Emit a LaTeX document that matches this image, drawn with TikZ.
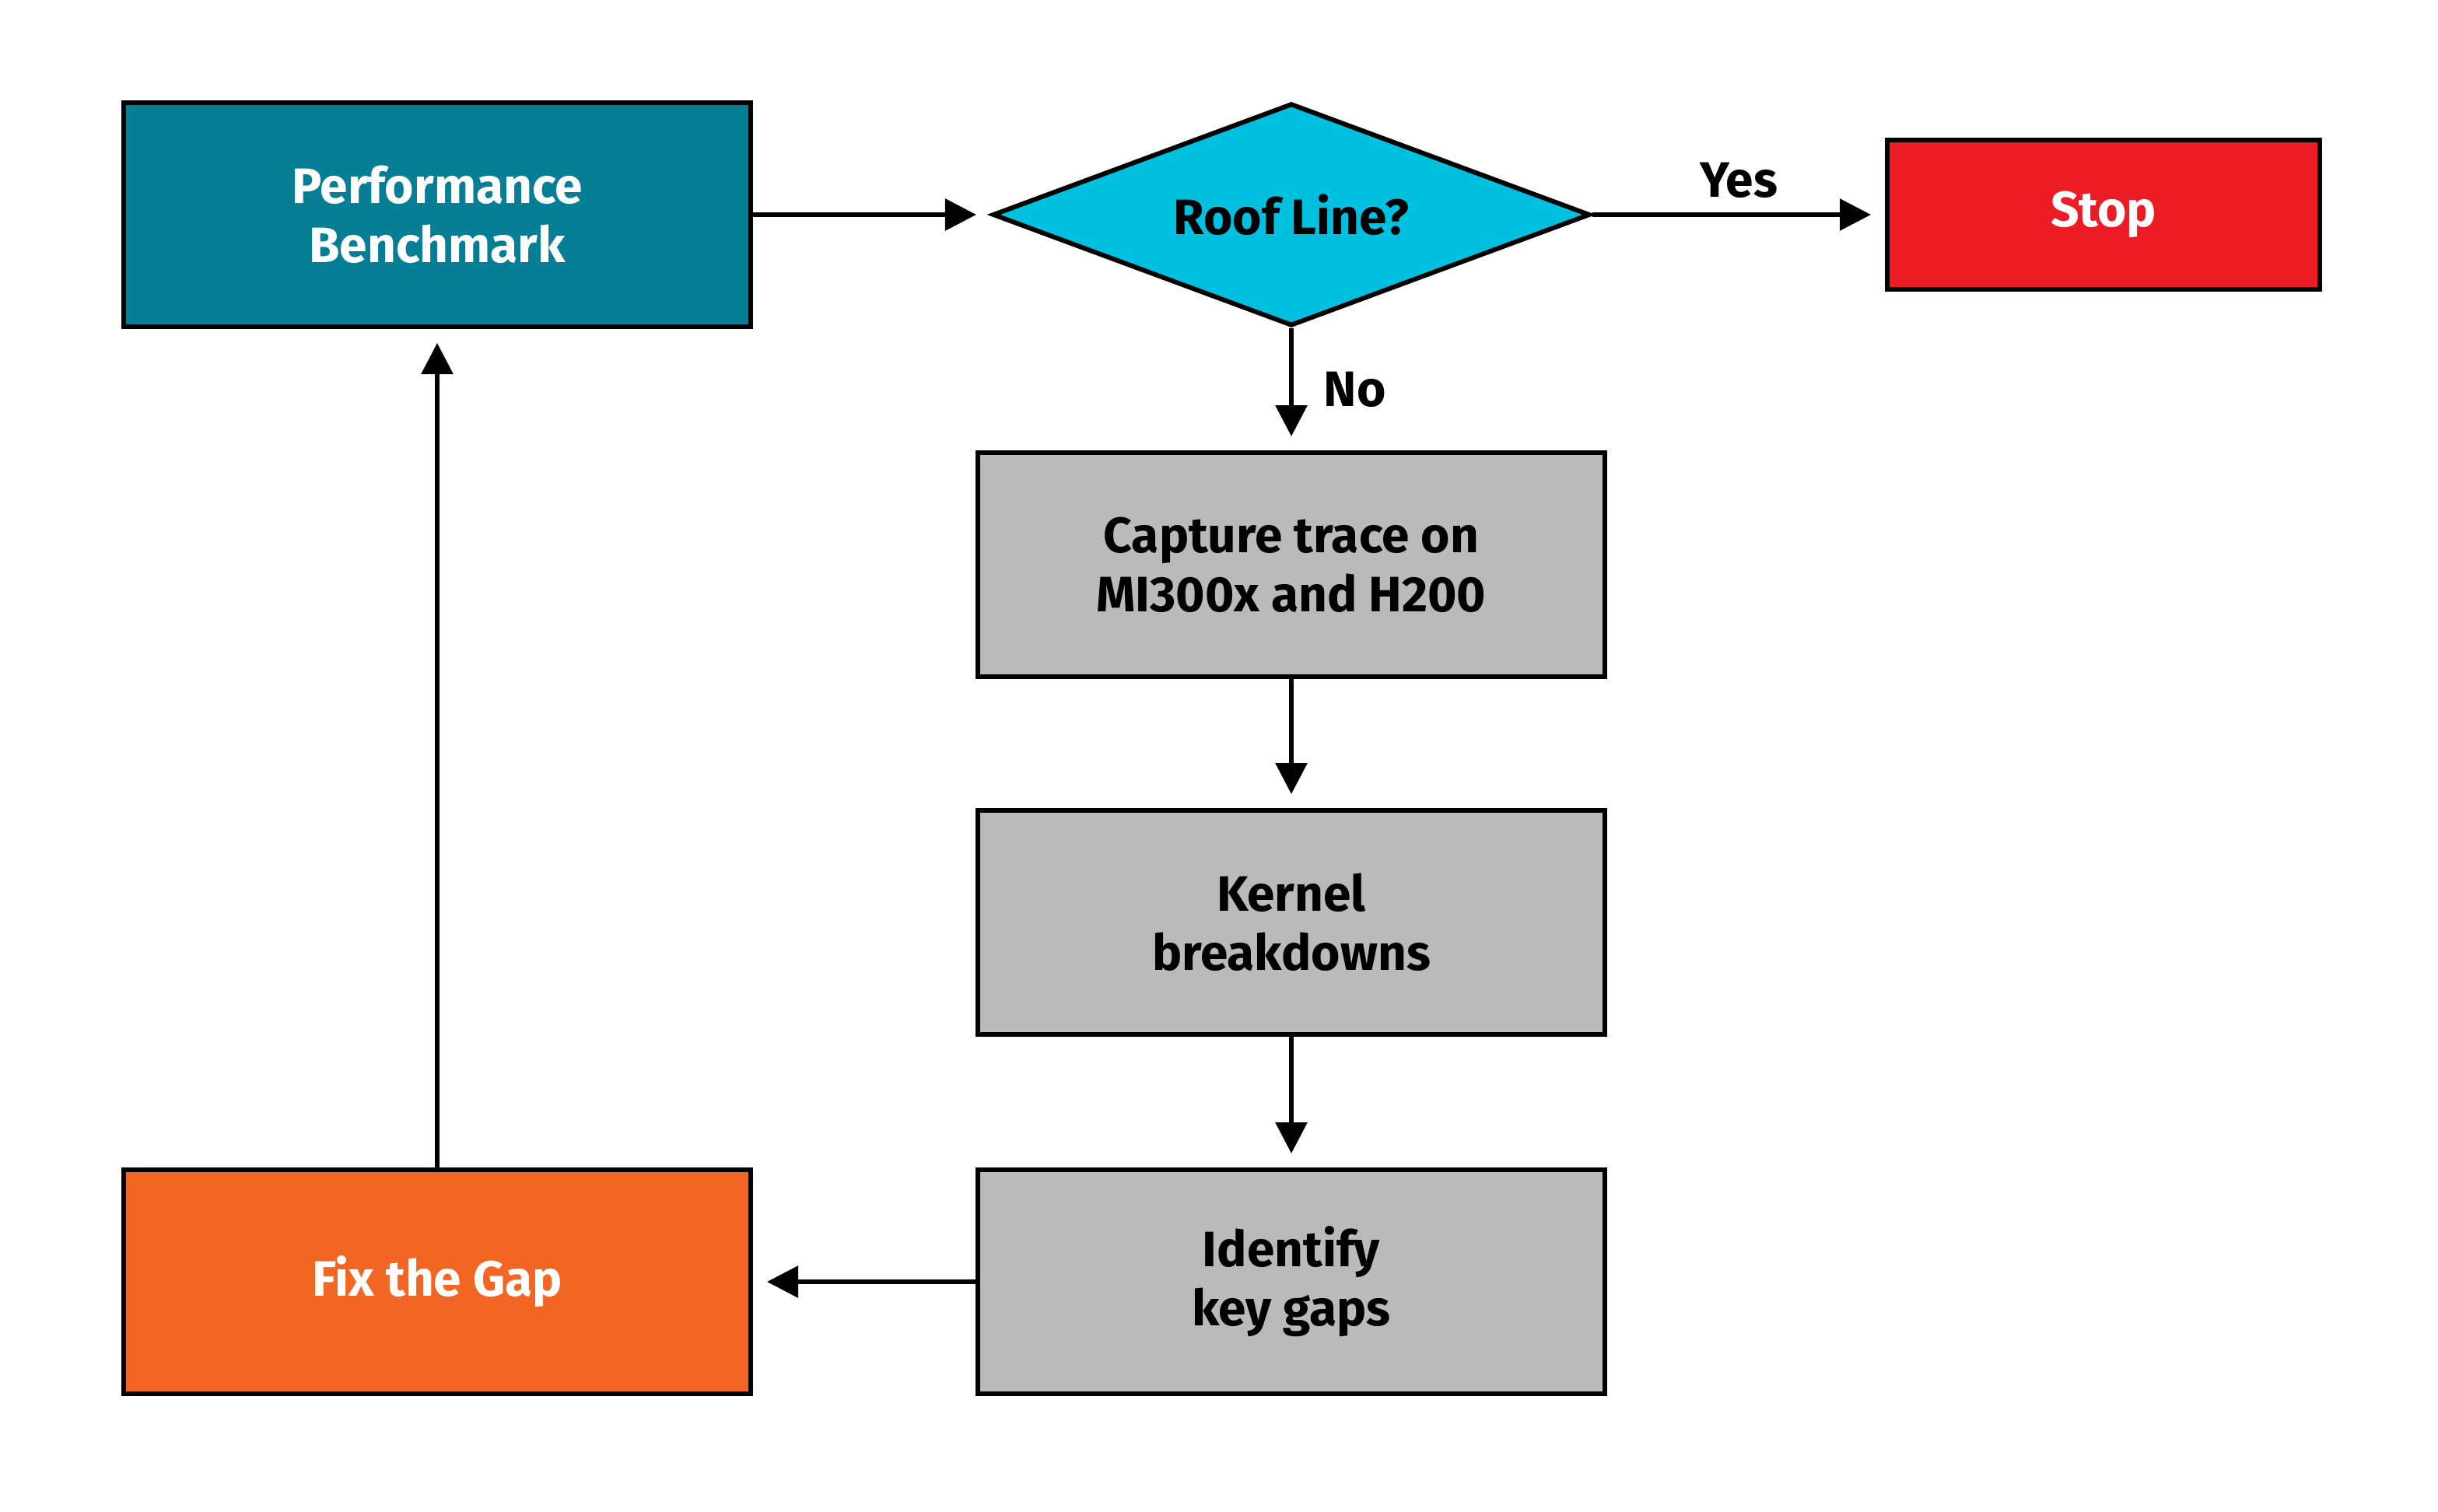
\documentclass[tikz,border=0pt]{standalone}
\usepackage{fontspec}
\setmainfont{Fira Sans}
\usetikzlibrary{shapes.geometric,arrows.meta}
\definecolor{benchteal}{HTML}{067F96}
\definecolor{roofcyan}{HTML}{00C0DF}
\definecolor{stopred}{HTML}{ED1C24}
\definecolor{stepgray}{HTML}{BABABA}
\definecolor{fixorange}{HTML}{F26522}
\tikzset{
  box/.style={draw=black,line width=3pt,minimum width=403pt,minimum height=144pt,
    align=center,font=\fontsize{32}{38}\selectfont\bfseries,inner sep=0pt},
  flow/.style={line width=3pt,-{Triangle[length=20pt,width=20pt]},shorten >=9pt},
  lbl/.style={font=\fontsize{32}{38}\selectfont\bfseries}
}
\begin{document}
\begin{tikzpicture}[x=1pt,y=-1pt]
\useasboundingbox (0,0) rectangle (1567,972);
% Boxes
\node[box,fill=benchteal,text=white] (bench) at (281,138) {Performance\\Benchmark};
\node[draw=black,line width=3pt,diamond,fill=roofcyan,minimum width=384pt,minimum height=143pt,
  inner sep=0pt,aspect=2.7,font=\fontsize{32}{38}\selectfont\bfseries] (roof) at (830,138) {Roof Line?};
\node[box,fill=stopred,text=white,minimum width=278pt,minimum height=96pt] (stop) at (1352,138) {Stop};
\node[box,fill=stepgray] (capture) at (830,363) {Capture trace on\\MI300x and H200};
\node[box,fill=stepgray] (kernel) at (830,593) {Kernel\\breakdowns};
\node[box,fill=stepgray] (gaps) at (830,824) {Identify\\key gaps};
\node[box,fill=fixorange,text=white] (fix) at (281,824) {Fix the Gap};
% Connectors
\draw[flow] (bench) -- (roof);
\draw[flow] (roof) -- node[lbl,above=6pt] {Yes} (stop);
\draw[flow] (roof.south) -- node[lbl,right=16pt] {No} (roof.south |- capture.north);
\draw[flow] (capture) -- (kernel);
\draw[flow] (kernel) -- (gaps);
\draw[flow] (gaps) -- (fix);
\draw[flow] (fix) -- (bench);
\end{tikzpicture}
\end{document}
